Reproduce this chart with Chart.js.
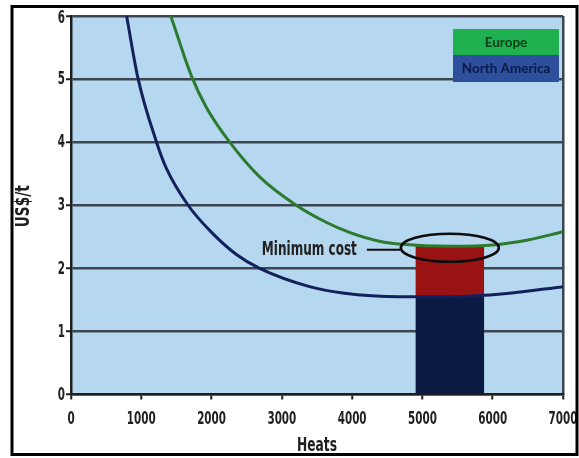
<!DOCTYPE html>
<html>
<head>
<meta charset="utf-8">
<script src="https://cdn.jsdelivr.net/npm/chart.js@4/dist/chart.umd.min.js"></script>
<style>
  html, body { margin: 0; padding: 0; background: #ffffff; }
  #wrap { width: 579px; height: 458px; }
</style>
</head>
<body>
<div id="wrap"><canvas id="cost" width="579" height="458"></canvas></div>
<script>
// Cost per tonne versus number of heats (furnace campaign life)
const naHeats = [791, 956, 1217, 1359, 1666, 2000, 2353, 2684, 3394, 3866, 4671, 5400, 6200, 7000];
const naCost  = [6.0, 5.0, 4.0, 3.58, 3.0, 2.57, 2.22, 2.0, 1.71, 1.61, 1.55, 1.55, 1.60, 1.71];

const euHeats = [1420, 1713, 1926, 2258, 2684, 3204, 3630, 3961, 4387, 4718, 5400, 6000, 6500, 7000];
const euCost  = [6.0, 5.05, 4.55, 4.0, 3.45, 3.0, 2.73, 2.57, 2.43, 2.38, 2.35, 2.37, 2.45, 2.58];

// Heat range of the minimum-cost window and the cost level of each region
const minCostHeats = [4900, 5880];
const naMinCost = 1.55;
const euMinCost = 2.35;

const seriesNames = ['Europe', 'North America'];
const xTicks = [0, 1000, 2000, 3000, 4000, 5000, 6000, 7000];
const yTicks = [0, 1, 2, 3, 4, 5, 6];
const xTitle = 'Heats';
const yTitle = 'US$/t';
const noteText = 'Minimum cost';

const CONDENSED = "'DejaVu Sans Condensed', 'DejaVu Sans', sans-serif";
const COL = {
  plot: '#b5d8f0',
  grid: '#3d4650',
  axis: '#1e1e1e',
  text: '#202020',
  euLine: '#2c7a2e',
  naLine: '#14205c',
  euBar: '#9a1313',
  naBar: '#0a1a42',
  euKey: '#1fb04f',
  naKey: '#2d4f9c',
  euKeyText: '#0b4019',
  naKeyText: '#0b1a48'
};

const toPoints = (xs, ys) => xs.map((x, i) => ({ x: x, y: ys[i] }));
const band = (level) => minCostHeats.map(x => ({ x: x, y: level }));

// Heavy condensed lettering: bold condensed face squeezed horizontally
function narrowText(ctx, text, x, y, opt) {
  ctx.save();
  ctx.font = 'bold ' + opt.size + 'px ' + CONDENSED;
  ctx.fillStyle = opt.color || COL.text;
  ctx.textBaseline = 'middle';
  ctx.textAlign = opt.align || 'center';
  let sx = opt.scaleX || 1;
  if (opt.width) sx = opt.width / ctx.measureText(text).width;
  ctx.translate(x, y);
  if (opt.rotate) ctx.rotate(opt.rotate);
  ctx.scale(sx, 1);
  ctx.fillText(text, 0, 0);
  ctx.restore();
}

// Blue plot background
const plotBackground = {
  id: 'plotBackground',
  beforeDraw(chart) {
    const { ctx, chartArea: a } = chart;
    ctx.save();
    ctx.fillStyle = COL.plot;
    ctx.fillRect(a.left, a.top, a.right - a.left, a.bottom - a.top);
    ctx.restore();
  }
};

// Axis lettering, minimum-cost marker, key boxes and outer frame
const overlay = {
  id: 'overlay',
  afterDraw(chart) {
    const { ctx, chartArea: a } = chart;
    const xs = chart.scales.x, ys = chart.scales.y;

    // tick labels
    xs.ticks.forEach(t => {
      narrowText(ctx, String(t.value), xs.getPixelForValue(t.value), a.bottom + 25, { size: 18, scaleX: 0.64 });
    });
    ys.ticks.forEach(t => {
      const py = ys.getPixelForValue(t.value) + (t.value === 6 ? 2 : 0.5);
      narrowText(ctx, String(t.value), a.left - 6, py, { size: 18, scaleX: 0.64, align: 'right' });
    });

    // axis titles
    narrowText(ctx, xTitle, (a.left + a.right) / 2, 446, { size: 19, width: 40 });
    narrowText(ctx, yTitle, 24, (a.top + a.bottom) / 2 + 1, { size: 19, width: 42, rotate: -Math.PI / 2 });

    ctx.save();
    // ellipse around the minimum-cost point
    const cx = xs.getPixelForValue((minCostHeats[0] + minCostHeats[1]) / 2);
    const cy = ys.getPixelForValue(euMinCost);
    const rx = 49, ry = 14;
    ctx.strokeStyle = '#0d0d0d';
    ctx.lineWidth = 2.6;
    ctx.beginPath();
    ctx.ellipse(cx, cy + 1.5, rx, ry, 0, 0, Math.PI * 2);
    ctx.stroke();

    // leader line
    const ly = cy + 3.5;
    ctx.lineWidth = 2.2;
    ctx.beginPath();
    ctx.moveTo(cx - rx - 34, ly);
    ctx.lineTo(cx - rx, ly);
    ctx.stroke();
    ctx.restore();

    narrowText(ctx, noteText, cx - rx - 44, ly, { size: 19, width: 95, align: 'right' });

    // key boxes
    ctx.save();
    const kx = 453, kw = 106, kh = 26, ky = 29;
    ctx.fillStyle = COL.euKey;
    ctx.fillRect(kx, ky, kw, kh);
    ctx.fillStyle = COL.naKey;
    ctx.fillRect(kx, ky + kh, kw, kh + 1);
    ctx.font = "bold 13.5px Lato, 'Open Sans', sans-serif";
    ctx.textAlign = 'center';
    ctx.textBaseline = 'middle';
    ctx.fillStyle = COL.euKeyText;
    ctx.fillText(seriesNames[0], kx + kw / 2, ky + kh / 2 + 1);
    ctx.fillStyle = COL.naKeyText;
    ctx.fillText(seriesNames[1], kx + kw / 2, ky + kh * 1.5 + 1);

    // outer frame
    ctx.strokeStyle = '#000000';
    ctx.lineWidth = 3;
    ctx.strokeRect(12, 6.5, 565, 448);
    ctx.restore();
  }
};

new Chart(document.getElementById('cost'), {
  type: 'line',
  data: {
    datasets: [
      {
        label: seriesNames[0],
        data: toPoints(euHeats, euCost),
        borderColor: COL.euLine,
        borderWidth: 3,
        pointRadius: 0,
        fill: false,
        cubicInterpolationMode: 'monotone'
      },
      {
        label: seriesNames[1],
        data: toPoints(naHeats, naCost),
        borderColor: COL.naLine,
        borderWidth: 3,
        pointRadius: 0,
        fill: false,
        cubicInterpolationMode: 'monotone'
      },
      {
        label: 'North America minimum',
        data: band(naMinCost),
        borderWidth: 0,
        borderColor: 'rgba(0,0,0,0)',
        backgroundColor: COL.naBar,
        pointRadius: 0,
        tension: 0,
        fill: 'origin'
      },
      {
        label: 'Europe minimum',
        data: band(euMinCost),
        borderWidth: 0,
        borderColor: 'rgba(0,0,0,0)',
        backgroundColor: COL.euBar,
        pointRadius: 0,
        tension: 0,
        fill: '-1'
      }
    ]
  },
  options: {
    responsive: false,
    animation: false,
    events: [],
    layout: { padding: { left: 0, top: 16, right: 16, bottom: 0 } },
    plugins: {
      legend: { display: false },
      tooltip: { enabled: false }
    },
    scales: {
      x: {
        type: 'linear',
        min: 0,
        max: 7000,
        afterBuildTicks(scale) { scale.ticks = xTicks.map(v => ({ value: v })); },
        afterFit(scale) { scale.height = 63.5; },
        ticks: { display: false },
        grid: {
          drawOnChartArea: true,
          color: (c) => (c.tick && c.tick.value === 7000 ? COL.grid : 'rgba(0,0,0,0)'),
          tickColor: COL.axis,
          tickLength: 5,
          lineWidth: 2.5,
          tickWidth: 2
        },
        border: { display: true, color: COL.axis, width: 2.5 }
      },
      y: {
        min: 0,
        max: 6,
        afterBuildTicks(scale) { scale.ticks = yTicks.map(v => ({ value: v })); },
        afterFit(scale) { scale.width = 71; },
        ticks: { display: false },
        grid: {
          color: COL.grid,
          tickColor: COL.axis,
          tickLength: 5,
          lineWidth: 2.5,
          tickWidth: 2
        },
        border: { display: true, color: COL.axis, width: 2.5 }
      }
    }
  },
  plugins: [plotBackground, overlay]
});
</script>
</body>
</html>
